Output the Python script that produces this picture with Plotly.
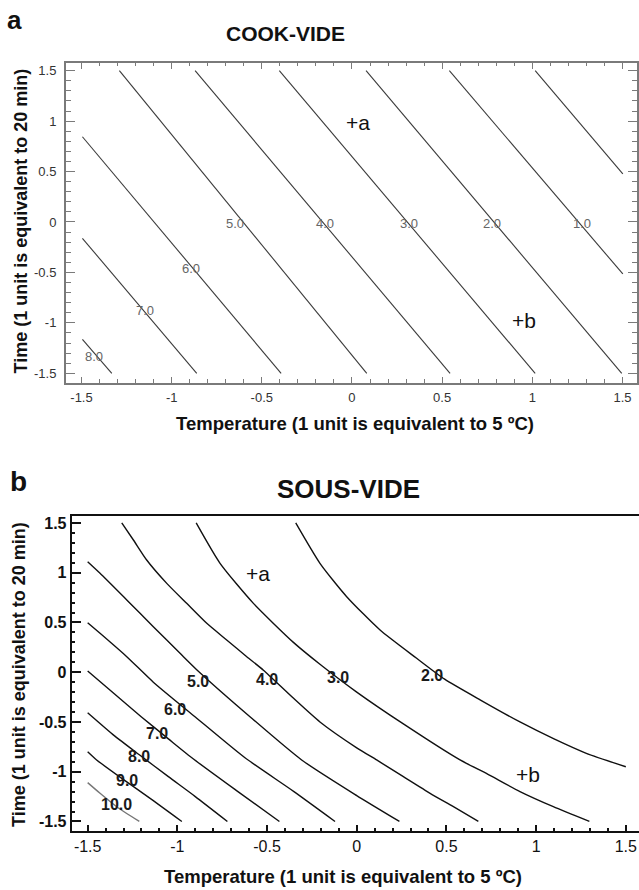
import plotly.graph_objects as go

# ---------------- data ----------------
TICK_VALS = [-1.5, -1, -0.5, 0, 0.5, 1, 1.5]
TICK_TEXT = ["-1.5", "-1", "-0.5", "0", "0.5", "1", "1.5"]

# Panel a (COOK-VIDE): straight contour lines
COOK_LEVELS = ["0.0", "1.0", "2.0", "3.0", "4.0", "5.0", "6.0", "7.0", "8.0"]
COOK_X = [[1.016, 1.502], [0.540, 1.502], [0.078, 1.496], [-0.403, 1.016],
          [-0.870, 0.544], [-1.290, 0.082], [-1.495, -0.393], [-1.495, -0.861],
          [-1.495, -1.332]]
COOK_Y = [[1.5, 0.476], [1.5, -0.515], [1.5, -1.5], [1.5, -1.5],
          [1.5, -1.5], [1.5, -1.5], [0.845, -1.5], [-0.162, -1.5],
          [-1.163, -1.5]]
COOK_LABELS = ["1.0", "2.0", "3.0", "4.0", "5.0", "6.0", "7.0", "8.0"]
COOK_LABEL_X = [1.276, 0.779, 0.317, -0.149, -0.648, -0.894, -1.148, -1.430]
COOK_LABEL_Y = [-0.013, -0.013, -0.013, -0.013, -0.013, -0.459, -0.879, -1.335]

# Panel b (SOUS-VIDE): curved contour lines
SOUS_LEVELS = ["2.0", "3.0", "4.0", "5.0", "6.0", "7.0", "8.0", "9.0", "10.0"]
SOUS_X = [
    [-0.34, -0.205, -0.056, 0.13, 0.334, 0.49, 0.69, 0.91, 1.10, 1.28, 1.50],
    [-0.895, -0.762, -0.576, -0.353, -0.205, 0.0, 0.26, 0.576, 0.725, 0.91, 1.096, 1.297],
    [-1.31, -1.245, -1.171, -1.059, -0.948, -0.836, -0.725, -0.613, -0.52, -0.36,
     -0.205, 0.0, 0.111, 0.26, 0.409, 0.539, 0.678],
    [-1.5, -1.431, -1.282, -1.134, -0.985, -0.883, -0.6, -0.307, 0.0, 0.238],
    [-1.5, -1.431, -1.282, -1.134, -0.9, -0.623, -0.35, -0.121],
    [-1.5, -1.35, -1.2, -1.05, -0.912, -0.67, -0.431],
    [-1.5, -1.35, -1.212, -1.05, -0.9, -0.721],
    [-1.5, -1.45, -1.3, -1.15, -0.975],
    [-1.5, -1.431, -1.338, -1.212],
]
SOUS_Y = [
    [1.5, 1.094, 0.759, 0.424, 0.14, -0.07, -0.28, -0.5, -0.67, -0.815, -0.95],
    [1.5, 1.094, 0.692, 0.30, 0.08, -0.20, -0.52, -0.882, -1.02, -1.2, -1.352, -1.5],
    [1.5, 1.329, 1.128, 0.893, 0.692, 0.491, 0.324, 0.156, 0.02, -0.25,
     -0.5, -0.76, -0.882, -1.05, -1.217, -1.352, -1.5],
    [1.11, 0.994, 0.726, 0.457, 0.19, 0.01, -0.44, -0.882, -1.24, -1.5],
    [0.497, 0.391, 0.156, -0.10, -0.45, -0.86, -1.2, -1.5],
    [0.012, -0.22, -0.45, -0.67, -0.87, -1.19, -1.5],
    [-0.407, -0.64, -0.83, -1.05, -1.25, -1.5],
    [-0.80, -0.882, -1.08, -1.27, -1.5],
    [-1.11, -1.217, -1.352, -1.5],
]
SOUS_LABEL_X = [0.418, -0.103, -0.502, -0.883, -1.013, -1.115, -1.212, -1.282, -1.338]
SOUS_LABEL_Y = [-0.03, -0.05, -0.07, -0.095, -0.373, -0.621, -0.849, -1.09, -1.325]

POINT_NAMES = ["+a", "+b"]
COOK_POINT_X = [0.036, 0.955]
COOK_POINT_Y = [0.988, -0.978]
SOUS_POINT_X = [-0.548, 0.953]
SOUS_POINT_Y = [0.994, -1.033]

# ---------------- figure ----------------
W, H = 639, 890
FONT = "Liberation Sans, Arial, Helvetica, sans-serif"
NARROW = "Liberation Sans Narrow, Arial Narrow, Liberation Sans, Arial, sans-serif"


def px(x):
    return x / W


def py(y):
    return 1 - y / H


fig = go.Figure()

for lvl, xs, ys in zip(COOK_LEVELS, COOK_X, COOK_Y):
    fig.add_trace(go.Scatter(x=xs, y=ys, mode="lines", xaxis="x", yaxis="y",
                             line=dict(color="#3a3a3a", width=1.1),
                             name=lvl, hoverinfo="skip"))

for lvl, xs, ys in zip(SOUS_LEVELS, SOUS_X, SOUS_Y):
    col = "#777777" if lvl == "10.0" else "#111111"
    fig.add_trace(go.Scatter(x=xs, y=ys, mode="lines", xaxis="x2", yaxis="y2",
                             line=dict(color=col, width=1.4, shape="spline", smoothing=0.6),
                             name=lvl, hoverinfo="skip"))

C = dict(showarrow=False, xanchor="center", yanchor="middle")
ann = []
for t, x, y in zip(COOK_LABELS, COOK_LABEL_X, COOK_LABEL_Y):
    ann.append(dict(x=x, y=y, xref="x", yref="y", text=t,
                    font=dict(family=NARROW, size=13, color="#666666"), **C))
for t, x, y in zip(SOUS_LEVELS, SOUS_LABEL_X, SOUS_LABEL_Y):
    ann.append(dict(x=x, y=y, xref="x2", yref="y2", text=t,
                    font=dict(family=FONT, size=16, color="#1a1a1a", weight="bold"), **C))
for t, x, y in zip(POINT_NAMES, COOK_POINT_X, COOK_POINT_Y):
    ann.append(dict(x=x, y=y, xref="x", yref="y", text=t,
                    font=dict(family=FONT, size=21, color="#111111"), **C))
for t, x, y in zip(POINT_NAMES, SOUS_POINT_X, SOUS_POINT_Y):
    ann.append(dict(x=x, y=y, xref="x2", yref="y2", text=t,
                    font=dict(family=FONT, size=21, color="#111111"), **C))

# panel letters and titles
ann += [
    dict(x=px(14), y=py(20), xref="paper", yref="paper", text="<b>a</b>",
         font=dict(family=FONT, size=26, color="#111"), **C),
    dict(x=px(18), y=py(481), xref="paper", yref="paper", text="<b>b</b>",
         font=dict(family=FONT, size=28, color="#111"), **C),
    dict(x=px(285.5), y=py(33), xref="paper", yref="paper", text="<b>COOK-VIDE</b>",
         font=dict(family=FONT, size=21, color="#111"), **C),
    dict(x=px(348), y=py(489), xref="paper", yref="paper", text="<b>SOUS-VIDE</b>",
         font=dict(family=FONT, size=26, color="#111"), **C),
    dict(x=px(355), y=py(423.5), xref="paper", yref="paper",
         text="<b>Temperature (1 unit is equivalent to 5 ºC)</b>",
         font=dict(family=FONT, size=18.5, color="#111"), **C),
    dict(x=px(342.5), y=py(876.5), xref="paper", yref="paper",
         text="<b>Temperature (1 unit is equivalent to 5 ºC)</b>",
         font=dict(family=FONT, size=18.5, color="#111"), **C),
    dict(x=px(20), y=py(221.5), xref="paper", yref="paper", textangle=-90,
         text="<b>Time (1 unit is equivalent to 20 min)</b>",
         font=dict(family=FONT, size=18, color="#111"), **C),
    dict(x=px(19), y=py(675), xref="paper", yref="paper", textangle=-90,
         text="<b>Time (1 unit is equivalent to 20 min)</b>",
         font=dict(family=FONT, size=18, color="#111"), **C),
]

GRAY = "#7a7a7a"
a_common = dict(showgrid=False, zeroline=False, showline=True, linecolor=GRAY,
                linewidth=2, mirror="allticks", ticks="inside", tickcolor=GRAY,
                tickwidth=1, tickvals=TICK_VALS, ticktext=TICK_TEXT,
                tickfont=dict(family=NARROW, size=13, color="#333333"))

fig.update_layout(
    width=W, height=H, margin=dict(l=0, r=0, t=0, b=0),
    paper_bgcolor="white", plot_bgcolor="white", showlegend=False,
    xaxis=dict(domain=[px(66), px(636.7)], range=[-1.586, 1.579], anchor="y",
               ticklen=6, ticklabelstandoff=2,
               minor=dict(dtick=0.1, ticklen=3.5, ticks="inside",
                          tickcolor=GRAY, showgrid=False),
               **a_common),
    yaxis=dict(domain=[py(382.7), py(62.7)], range=[-1.593, 1.579], anchor="x",
               ticklen=9, ticklabelstandoff=5,
               minor=dict(dtick=0.1, ticklen=5, ticks="inside",
                          tickcolor=GRAY, showgrid=False),
               **a_common),
    xaxis2=dict(domain=[px(71.7), 1.0], range=[-1.589, 1.5736], anchor="y2",
                showgrid=False, zeroline=False, showline=True, linecolor="#111",
                linewidth=2, mirror=True, ticks="inside", tickcolor="#111",
                tickwidth=1.5, ticklen=6, tickvals=TICK_VALS, ticktext=TICK_TEXT,
                minor=dict(dtick=0.1, ticklen=3, ticks="inside", tickcolor="#111",
                           showgrid=False),
                tickfont=dict(family=FONT, size=16, color="#111")),
    xaxis4=dict(overlaying="x2", side="top", anchor="y2", range=[-1.589, 1.5736],
                showgrid=False, zeroline=False, showline=False, ticks="inside",
                tickcolor="#111", tickwidth=1.5, ticklen=5, tickvals=TICK_VALS,
                showticklabels=False),
    yaxis2=dict(domain=[py(830.7), py(516)], range=[-1.593, 1.570], anchor="x2",
                showgrid=False, zeroline=False, showline=True, linecolor="#111",
                linewidth=2, ticks="inside", tickcolor="#111", tickwidth=1.5,
                ticklen=9, tickvals=TICK_VALS, ticktext=TICK_TEXT,
                minor=dict(dtick=0.1, ticklen=3, ticks="inside", tickcolor="#111",
                           showgrid=False),
                tickfont=dict(family=FONT, size=16, color="#111", weight="bold")),
    yaxis4=dict(overlaying="y2", side="right", anchor="x2", range=[-1.593, 1.570],
                showgrid=False, zeroline=False, showline=False, ticks="inside",
                tickcolor="#111", tickwidth=1.5, ticklen=7, tickvals=TICK_VALS,
                showticklabels=False,
                minor=dict(dtick=0.1, ticklen=3, ticks="inside", tickcolor="#111",
                           showgrid=False)),
    annotations=ann,
)

fig.write_html(
    "out.html",
    config={"displayModeBar": False},
    post_script="document.body.style.margin='0';document.body.style.padding='0';"
                "document.body.style.overflow='hidden';"
                "document.documentElement.style.overflow='hidden';",
)
